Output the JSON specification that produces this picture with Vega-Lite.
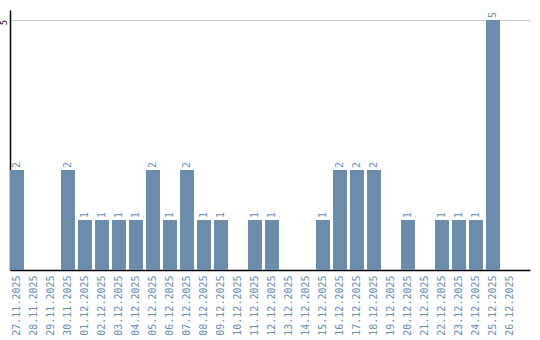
{
  "$schema": "https://vega.github.io/schema/vega-lite/v6.json",
  "width": 520,
  "height": 260,
  "autosize": {"type": "none"},
  "padding": {"left": 10, "top": 10, "right": 10, "bottom": 70},
  "background": "white",
  "data": {
    "values": [
      {"date": "27.11.2025", "count": 2},
      {"date": "28.11.2025", "count": 0},
      {"date": "29.11.2025", "count": 0},
      {"date": "30.11.2025", "count": 2},
      {"date": "01.12.2025", "count": 1},
      {"date": "02.12.2025", "count": 1},
      {"date": "03.12.2025", "count": 1},
      {"date": "04.12.2025", "count": 1},
      {"date": "05.12.2025", "count": 2},
      {"date": "06.12.2025", "count": 1},
      {"date": "07.12.2025", "count": 2},
      {"date": "08.12.2025", "count": 1},
      {"date": "09.12.2025", "count": 1},
      {"date": "10.12.2025", "count": 0},
      {"date": "11.12.2025", "count": 1},
      {"date": "12.12.2025", "count": 1},
      {"date": "13.12.2025", "count": 0},
      {"date": "14.12.2025", "count": 0},
      {"date": "15.12.2025", "count": 1},
      {"date": "16.12.2025", "count": 2},
      {"date": "17.12.2025", "count": 2},
      {"date": "18.12.2025", "count": 2},
      {"date": "19.12.2025", "count": 0},
      {"date": "20.12.2025", "count": 1},
      {"date": "21.12.2025", "count": 0},
      {"date": "22.12.2025", "count": 1},
      {"date": "23.12.2025", "count": 1},
      {"date": "24.12.2025", "count": 1},
      {"date": "25.12.2025", "count": 5},
      {"date": "26.12.2025", "count": 0}
    ]
  },
  "config": {
    "view": {"stroke": null},
    "font": "DejaVu Sans Mono"
  },
  "encoding": {
    "x": {
      "field": "date",
      "type": "ordinal",
      "sort": null,
      "scale": {"paddingInner": 0.176, "paddingOuter": 0.382, "align": 0},
      "axis": {
        "title": null,
        "labelAngle": -90,
        "labelColor": "#6b8cae",
        "labelFont": "DejaVu Sans Mono",
        "labelFontSize": 10,
        "labelPadding": 5,
        "ticks": false,
        "domainColor": "black",
        "domainWidth": 1.5,
        "grid": false
      }
    },
    "y": {
      "field": "count",
      "type": "quantitative",
      "scale": {"domain": [0, 5.2], "nice": false},
      "axis": {
        "title": null,
        "values": [5],
        "labelAngle": -90,
        "labelAlign": "center",
        "labelBaseline": "bottom",
        "labelFlush": false,
        "labelBound": false,
        "labelOffset": 2,
        "labelColor": "black",
        "labelFont": "DejaVu Sans Mono",
        "labelFontSize": 9,
        "labelPadding": 2,
        "ticks": false,
        "domainColor": "black",
        "domainWidth": 1.5,
        "grid": true,
        "gridColor": "#cccccc",
        "gridWidth": 1
      }
    }
  },
  "layer": [
    {
      "mark": {"type": "bar", "color": "#6b8cab"}
    },
    {
      "transform": [{"filter": "datum.count > 0"}],
      "mark": {
        "type": "text",
        "angle": -90,
        "align": "left",
        "baseline": "middle",
        "dx": 2,
        "color": "#6b8cae",
        "font": "DejaVu Sans Mono",
        "fontSize": 10
      },
      "encoding": {
        "text": {"field": "count", "type": "quantitative"}
      }
    }
  ]
}
